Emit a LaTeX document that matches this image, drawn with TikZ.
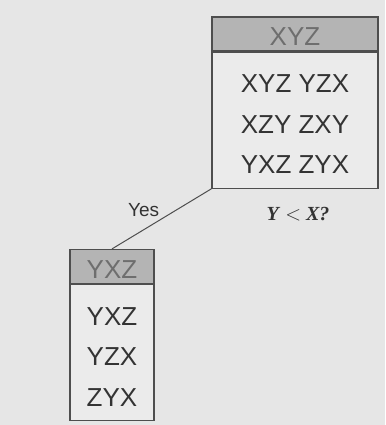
\documentclass[tikz,border=0pt]{standalone}
\usepackage{fontspec}
\setmainfont{Liberation Sans}
\newfontfamily\qfont{Liberation Serif}
\usepackage{xcolor}
\usepackage{tikz}
\usetikzlibrary{positioning}

\definecolor{bgGray}{HTML}{E6E6E6}
\definecolor{bodyGray}{HTML}{EBEBEB}
\definecolor{headGray}{HTML}{B4B4B4}
\definecolor{headText}{HTML}{6E6E6E}
\definecolor{rimGray}{HTML}{4E4E4E}
\definecolor{rowText}{HTML}{333333}

\tikzset{
  headbox/.style={draw=rimGray, line width=1.2pt, fill=headGray,
    text=headText, minimum height=34pt, inner sep=0pt,
    text height=24pt, text depth=0pt,
    font=\fontsize{26}{26}\selectfont},
  bodybox/.style={draw=rimGray, line width=1.2pt, fill=bodyGray,
    minimum height=136pt, inner sep=0pt},
  rowtext/.style={text=rowText, inner sep=0pt,
    font=\fontsize{26}{26}\selectfont}
}

\begin{document}
\begin{tikzpicture}[x=1pt,y=-1pt]
  \fill[bgGray] (0,0) rectangle (385,425);

  % root box
  \node[headbox, minimum width=166pt] (rootHead) at (295,34) {XYZ};
  \node[bodybox, minimum width=166pt, below=0pt of rootHead] (rootBody) {};
  \foreach \txt [count=\i] in {XYZ YZX, XZY ZXY, YXZ ZYX}
    \node[rowtext] (rootRow\i) at ([yshift={-32pt-40.5pt*(\i-1)}]rootBody.north) {\txt};
  \node[below=15pt of rootBody, xshift=3pt, text=rowText,
    font=\qfont\fontsize{20}{20}\selectfont] (rootQuery)
    {\textit{\textbf{Y}} $<$ \textit{\textbf{X?}}};

  % yes child
  \node[headbox, minimum width=84pt] (yesHead) at (112,266.5) {YXZ};
  \node[bodybox, minimum width=84pt, below=0pt of yesHead] (yesBody) {};
  \foreach \txt [count=\i] in {YXZ, YZX, ZYX}
    \node[rowtext] (yesRow\i) at ([yshift={-32pt-40.5pt*(\i-1)}]yesBody.north) {\txt};

  \draw[rimGray, line width=1pt] (rootBody.south west) -- (yesHead.north)
    node[pos=0.5, above left, inner sep=2pt, text=rowText,
      font=\fontsize{19}{19}\selectfont] (yesLabel) {Yes};
\end{tikzpicture}
\end{document}
